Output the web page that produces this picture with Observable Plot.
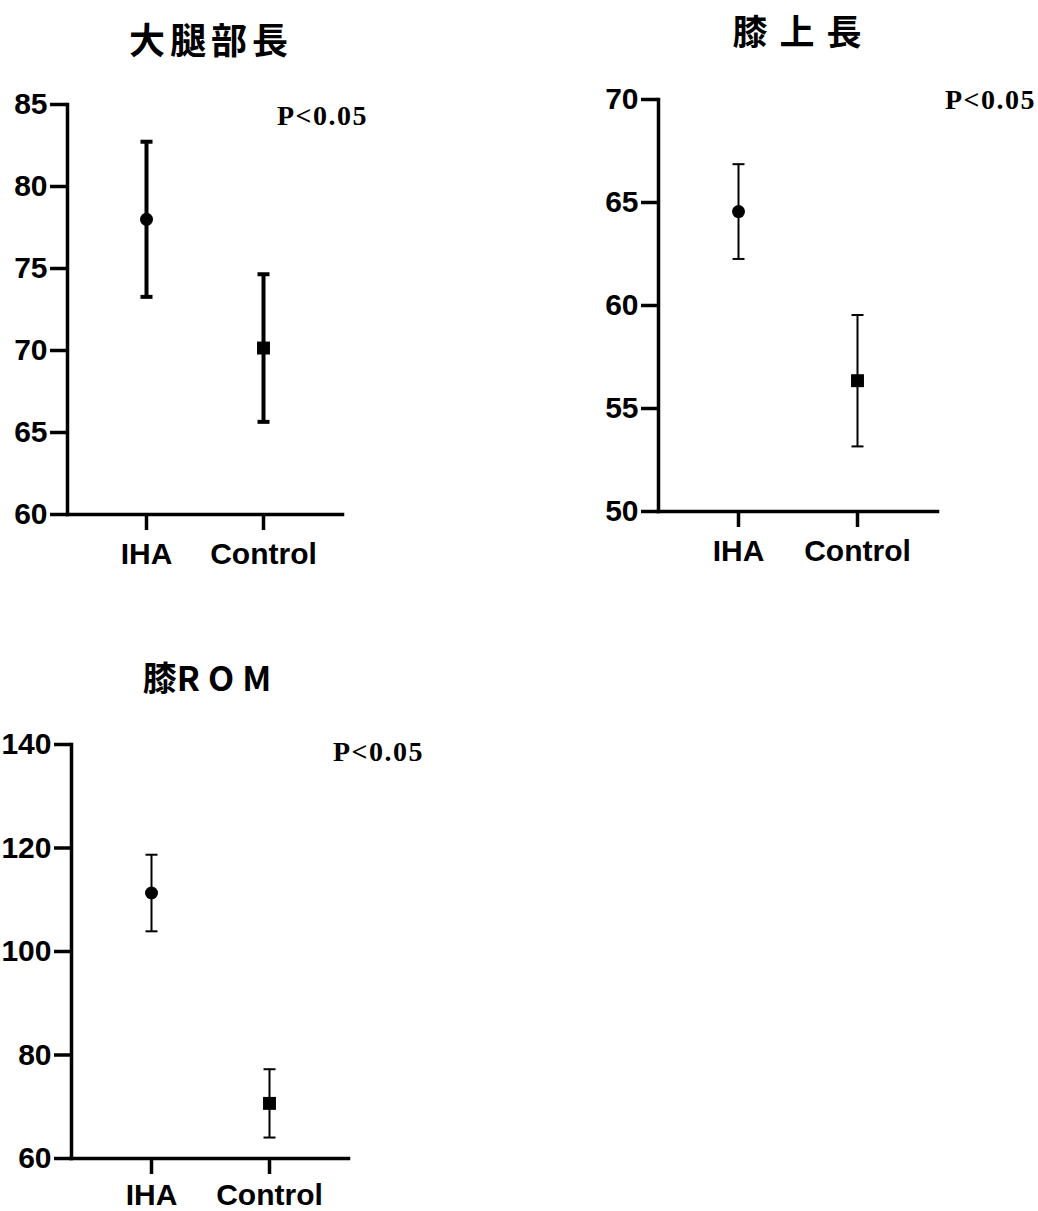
<!DOCTYPE html>
<html>
<head>
<meta charset="utf-8">
<script src="https://cdn.jsdelivr.net/npm/d3@7"></script>
<script src="https://cdn.jsdelivr.net/npm/@observablehq/plot@0.6"></script>
<style>
  html, body { margin: 0; padding: 0; background: #fff; }
  #root { position: relative; width: 1038px; height: 1211px; overflow: hidden; background: #fff; }
  .panel { position: absolute; }
  .title { position: absolute; transform: translate(-50%, -50%); white-space: nowrap;
           font-family: "Noto Sans CJK JP", "Noto Sans CJK SC", sans-serif; font-weight: 700; color: #000; }
  .title span.first { letter-spacing: 0; }
  .pval { position: absolute; transform: translate(0, -50%); white-space: nowrap;
          font-family: "Liberation Serif", "DejaVu Serif", serif; font-weight: 700; font-size: 28px; letter-spacing: 1.5px; color: #000; }
</style>
</head>
<body>
<div id="root"></div>
<script>
// ---- data ----
const groups = ["IHA", "Control"];
const groupSymbols = ["circle", "square"];

const thighTitle = "大腿部長";
const thighMean = [78.0, 70.15];
const thighSD = [4.73, 4.5];
const thighTicks = [60, 65, 70, 75, 80, 85];

const kneeUpperTitle = "膝上長";
const kneeUpperMean = [64.56, 56.35];
const kneeUpperSD = [2.3, 3.19];
const kneeUpperTicks = [50, 55, 60, 65, 70];

const romTitle = "膝ROM";
const romMean = [111.3, 70.65];
const romSD = [7.4, 6.6];
const romTicks = [60, 80, 100, 120, 140];

const pLabel = "P<0.05";

// ---- drawing ----
const root = document.getElementById("root");

// horizontal cap symbol for error bars (half-width = r)
const capSymbol = {
  draw(context, size) {
    const r = Math.sqrt(size / Math.PI);
    context.moveTo(-r, 0);
    context.lineTo(r, 0);
  }
};

function panel({mean, sd, ticks, left, top, width, height, mL, mR, mT, mB, ebWidth, xPad}) {
  const data = groups.map((g, i) => ({group: g, mean: mean[i], lo: mean[i] - sd[i], hi: mean[i] + sd[i], symbol: groupSymbols[i]}));
  const axisW = 3.5;
  const chart = Plot.plot({
    width, height,
    marginLeft: mL, marginRight: mR, marginTop: mT, marginBottom: mB,
    x: {type: "point", domain: groups, padding: 0.67, axis: null, label: null},
    y: {domain: [ticks[0], ticks[ticks.length - 1]], axis: null, label: null},
    style: {fontFamily: "'Liberation Sans', Arial, sans-serif", background: "white", color: "black", overflow: "visible"},
    marks: [
      Plot.axisY({ticks, label: null, tickSize: 17, tickPadding: 3, strokeWidth: axisW, fontSize: 30, fontWeight: "bold", tickFormat: d => String(d)}),
      Plot.axisX({label: null, tickSize: 16, tickPadding: xPad, strokeWidth: axisW, fontSize: 30, fontWeight: "bold"}),
      Plot.frame({anchor: "left", strokeWidth: axisW, strokeLinecap: "square"}),
      Plot.frame({anchor: "bottom", strokeWidth: axisW, strokeLinecap: "square"}),
      Plot.ruleX(data, {x: "group", y1: "lo", y2: "hi", strokeWidth: ebWidth}),
      Plot.dot(data, {x: "group", y: "lo", symbol: capSymbol, r: 6, stroke: "black", fill: "none", strokeWidth: ebWidth}),
      Plot.dot(data, {x: "group", y: "hi", symbol: capSymbol, r: 6, stroke: "black", fill: "none", strokeWidth: ebWidth}),
      Plot.dot(data, {filter: d => d.symbol === "circle", x: "group", y: "mean", symbol: "circle", r: 6.5, fill: "black", stroke: "none"}),
      Plot.dot(data, {filter: d => d.symbol === "square", x: "group", y: "mean", symbol: "square", r: 7.3, fill: "black", stroke: "none"})
    ]
  });
  chart.classList.add("panel");
  chart.style.left = left + "px";
  chart.style.top = top + "px";
  root.appendChild(chart);
}

function label(cls, text, x, y, extra, firstTight) {
  const d = document.createElement("div");
  d.className = cls;
  if (firstTight) {
    const s = document.createElement("span");
    s.className = "first";
    s.textContent = text.slice(0, 1);
    d.appendChild(s);
    d.appendChild(document.createTextNode(text.slice(1)));
  } else {
    d.textContent = text;
  }
  d.style.left = x + "px";
  d.style.top = y + "px";
  Object.assign(d.style, extra || {});
  root.appendChild(d);
}

panel({mean: thighMean, sd: thighSD, ticks: thighTicks, left: 0, top: 0, width: 380, height: 600,
       mL: 67, mR: 38, mT: 104, mB: 86, ebWidth: 4, xPad: 12});
panel({mean: kneeUpperMean, sd: kneeUpperSD, ticks: kneeUpperTicks, left: 560, top: 0, width: 478, height: 600,
       mL: 98, mR: 101, mT: 99, mB: 89, ebWidth: 2, xPad: 12});
panel({mean: romMean, sd: romSD, ticks: romTicks, left: 0, top: 640, width: 440, height: 571,
       mL: 71, mR: 92, mT: 104, mB: 53, ebWidth: 2, xPad: 9});

label("title", thighTitle, 211, 38, {fontSize: "36px", letterSpacing: "5px"});
label("title", kneeUpperTitle, 803, 29, {fontSize: "35px", letterSpacing: "12px"});
label("title", romTitle, 211, 676, {fontSize: "34px", letterSpacing: "8px"}, true);

label("pval", pLabel, 277, 116);
label("pval", pLabel, 945, 100);
label("pval", pLabel, 333, 752);
</script>
</body>
</html>
